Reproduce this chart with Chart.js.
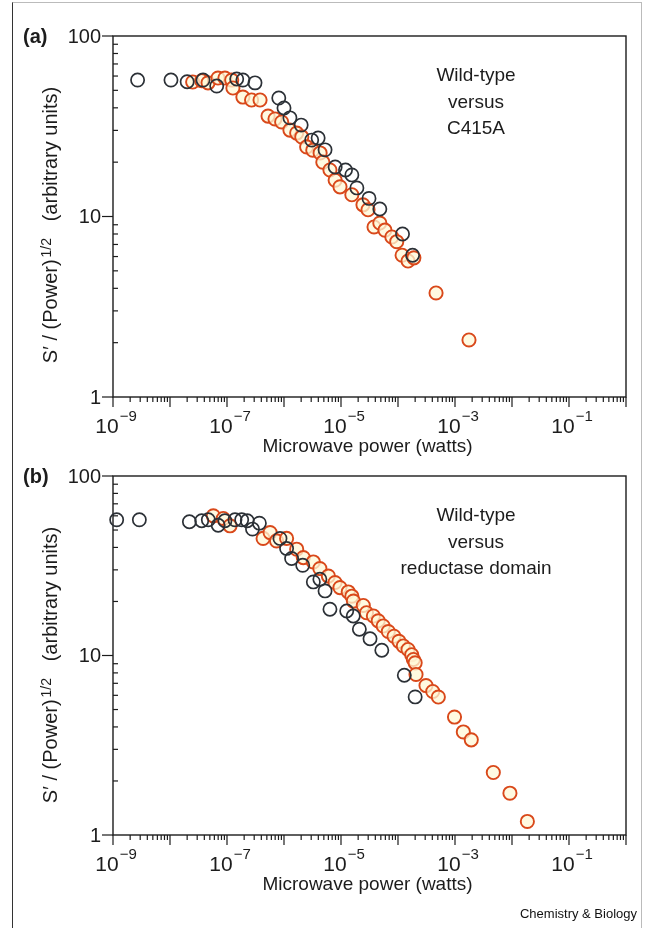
<!DOCTYPE html>
<html lang="en">
<head>
    <meta charset="UTF-8">
    <title>Microwave power saturation</title>
    <script src="https://cdn.jsdelivr.net/npm/chart.js"></script>
    <style>
        body { margin: 0; background: #fff; }
        .page { position: relative; width: 647px; height: 930px; overflow: hidden; }
        .frame { position: absolute; left: 12px; top: 2px; width: 628px; height: 925px; border-left: 1.5px solid #333; border-top: 1px solid #bbb; border-right: 1px solid #bbb; }
        canvas { position: absolute; left: 0; }
        .credit { position: absolute; right: 10px; top: 906px; font: 13px 'Liberation Sans', Arial, sans-serif; color: #111; }
    </style>
</head>
<body>
<div class="page">
    <div class="frame"></div>
    <canvas id="chartA" width="647" height="460" style="top:0"></canvas>
    <canvas id="chartB" width="647" height="490" style="top:440px"></canvas>
    <div class="credit">Chemistry &amp; Biology</div>
</div>

<script>
    // panel (a): wild-type vs C415A
    var aWildX = [2.7e-9, 1.04e-8, 2.0e-8, 3.8e-8, 6.6e-8, 1.48e-7, 1.9e-7, 3.1e-7, 8.1e-7, 1.0e-6, 1.27e-6, 2.0e-6,
                  3.06e-6, 3.97e-6, 5.25e-6, 7.9e-6, 1.2e-5, 1.55e-5, 1.9e-5, 3.1e-5, 4.8e-5, 1.2e-4, 1.8e-4];
    var aWildY = [57, 57, 55.8, 57, 52.8, 57.8, 57, 55, 45.3, 39.9, 35.2, 32.1,
                  26.5, 27.2, 23.4, 18.8, 18.1, 17, 14.4, 12.6, 11.0, 8.0, 6.1];
    var aMutX = [2.5e-8, 3.6e-8, 4.65e-8, 6.95e-8, 9.2e-8, 1.21e-7, 1.27e-7, 1.9e-7, 2.7e-7, 3.8e-7, 5.25e-7, 6.95e-7,
                 9.1e-7, 1.27e-6, 1.67e-6, 2.05e-6, 2.5e-6, 3.2e-6, 4.3e-6, 4.8e-6, 6.4e-6, 7.9e-6, 9.6e-6, 1.55e-5,
                 2.43e-5, 2.98e-5, 3.8e-5, 4.8e-5, 5.9e-5, 7.8e-5, 9.5e-5, 1.18e-4, 1.5e-4, 1.9e-4, 4.65e-4, 1.76e-3];
    var aMutY = [55.6, 56.5, 55, 58.5, 58.5, 57, 51.5, 45.9, 44.2, 44.2, 36, 34.7,
                 33.4, 30.1, 29, 27.6, 24.3, 23.3, 22.5, 20, 18.1, 15.9, 14.6, 13.2,
                 11.6, 10.9, 8.75, 9.2, 8.4, 7.7, 7.25, 6.1, 5.67, 5.9, 3.77, 2.07];

    // panel (b): wild-type vs reductase domain
    var bWildX = [1.16e-9, 2.9e-9, 2.19e-8, 3.6e-8, 4.7e-8, 7.0e-8, 9.2e-8, 1.38e-7, 1.81e-7, 2.27e-7, 2.8e-7, 3.7e-7,
                  8.5e-7, 1.11e-6, 1.36e-6, 2.13e-6, 3.27e-6, 4.26e-6, 5.25e-6, 6.4e-6, 1.26e-5, 1.64e-5, 2.1e-5,
                  3.23e-5, 5.2e-5, 1.29e-4, 2.0e-4];
    var bWildY = [57, 57, 55.6, 56.3, 57, 53.2, 56.3, 57, 57, 56.3, 50.6, 54.6,
                  44.9, 39.5, 34.7, 31.8, 25.7, 26.6, 22.9, 18.1, 17.7, 16.6, 14.0,
                  12.4, 10.7, 7.76, 5.88];
    var bDomX = [5.75e-8, 8.6e-8, 1.13e-7, 4.3e-7, 5.7e-7, 7.4e-7, 1.11e-6, 1.67e-6, 2.18e-6, 3.27e-6, 4.26e-6, 6.0e-6,
                 7.86e-6, 9.6e-6, 1.34e-5, 1.55e-5, 1.65e-5, 2.46e-5, 2.8e-5, 3.7e-5, 4.5e-5, 5.5e-5, 6.76e-5, 8.5e-5,
                 1.04e-4, 1.24e-4, 1.5e-4, 1.74e-4, 1.86e-4, 2.0e-4, 2.07e-4, 3.1e-4, 4.07e-4, 5.1e-4, 9.8e-4, 1.4e-3,
                 1.93e-3, 4.7e-3, 9.2e-3, 1.86e-2];
    var bDomY = [60, 58, 52.8, 44.9, 48.4, 43.5, 44.9, 39.1, 35.1, 33.2, 30.5, 27.7,
                 25.5, 23.9, 22.6, 21.4, 20.1, 19.0, 17.3, 16.6, 15.6, 14.6, 13.6, 12.8,
                 12.0, 11.3, 10.8, 10.1, 9.5, 9.1, 7.84, 6.8, 6.3, 5.87, 4.54, 3.75,
                 3.39, 2.23, 1.71, 1.19];

    // axis ticks
    var xDecades = [-9, -8, -7, -6, -5, -4, -3, -2, -1, 0];
    var xLabelExp = [-9, -7, -5, -3, -1];
    var yDecades = [0, 1, 2];
    var yLabels = ['1', '10', '100'];
    var minorSteps = [2, 3, 4, 5, 6, 7, 8, 9];

    var FONT = "'Liberation Sans', Arial, Helvetica, sans-serif";
    var INK = '#1c1c1c';

    function pts(xs, ys) {
        return xs.map(function (v, i) { return { x: v, y: ys[i] }; });
    }

    function line(ctx, x1, y1, x2, y2) {
        ctx.beginPath();
        ctx.moveTo(x1, y1);
        ctx.lineTo(x2, y2);
        ctx.stroke();
    }

    // axes, ticks and labels drawn from the chart's own log scales
    function axesPlugin(panel, note) {
        return {
            id: 'axes' + panel,
            beforeDatasetsDraw: function (chart) {
                var ctx = chart.ctx, a = chart.chartArea;
                var xs = chart.scales.x, ys = chart.scales.y;
                ctx.save();
                ctx.strokeStyle = INK;
                ctx.fillStyle = INK;
                ctx.lineWidth = 1.4;
                ctx.strokeRect(a.left, a.top, a.right - a.left, a.bottom - a.top);

                // x ticks
                ctx.lineWidth = 1.2;
                xDecades.forEach(function (e) {
                    var px = xs.getPixelForValue(Math.pow(10, e));
                    line(ctx, px, a.bottom, px, a.bottom + 10);
                    if (e < 0) {
                        minorSteps.forEach(function (m) {
                            var mx = xs.getPixelForValue(m * Math.pow(10, e));
                            line(ctx, mx, a.bottom, mx, a.bottom + 5);
                        });
                    }
                });
                // y ticks: majors outward, minors inward
                yDecades.forEach(function (e) {
                    var py = ys.getPixelForValue(Math.pow(10, e));
                    line(ctx, a.left - 11, py, a.left, py);
                    if (e < 2) {
                        minorSteps.forEach(function (m) {
                            var my = ys.getPixelForValue(m * Math.pow(10, e));
                            line(ctx, a.left, my, a.left + 5, my);
                        });
                    }
                });

                // y tick labels
                ctx.font = '20px ' + FONT;
                ctx.textAlign = 'right';
                ctx.textBaseline = 'middle';
                yDecades.forEach(function (e, i) {
                    ctx.fillText(yLabels[i], a.left - 12, ys.getPixelForValue(Math.pow(10, e)) + 1);
                });

                // x tick labels 10^n
                ctx.textBaseline = 'alphabetic';
                ctx.textAlign = 'left';
                xLabelExp.forEach(function (e) {
                    var px = xs.getPixelForValue(Math.pow(10, e));
                    ctx.font = '21px ' + FONT;
                    var w1 = ctx.measureText('10').width;
                    ctx.font = '15px ' + FONT;
                    var sup = '\u2212' + Math.abs(e);
                    var w2 = ctx.measureText(sup).width;
                    var x0 = px - (w1 + w2 + 1) / 2 + 3;
                    ctx.font = '21px ' + FONT;
                    ctx.fillText('10', x0, a.bottom + 36);
                    ctx.font = '15px ' + FONT;
                    ctx.fillText(sup, x0 + w1 + 1, a.bottom + 24);
                });

                // x title
                ctx.font = '19px ' + FONT;
                ctx.textAlign = 'center';
                ctx.fillText('Microwave power (watts)', (a.left + a.right) / 2 - 2, a.bottom + 55);

                // y title, rotated, with superscript
                ctx.save();
                ctx.translate(57, a.top + 190);
                ctx.rotate(-Math.PI / 2);
                ctx.textAlign = 'left';
                var p1 = 'S\u2032 / (Power)', p2 = '1/2', p3 = '   (arbitrary units)';
                ctx.font = '20px ' + FONT;
                var w1 = ctx.measureText(p1).width, w3 = ctx.measureText(p3).width;
                ctx.font = '14px ' + FONT;
                var w2 = ctx.measureText(p2).width;
                var sx = -(w1 + w2 + w3) / 2;
                ctx.font = '20px ' + FONT;
                ctx.fillText(p1, sx, 0);
                ctx.font = '14px ' + FONT;
                ctx.fillText(p2, sx + w1 + 2, -6);
                ctx.font = '20px ' + FONT;
                ctx.fillText(p3, sx + w1 + w2 + 2, 0);
                ctx.restore();

                // panel letter
                ctx.font = 'bold 20px ' + FONT;
                ctx.textAlign = 'left';
                ctx.textBaseline = 'middle';
                ctx.fillText('(' + panel + ')', 23, a.top + 1);

                // annotation
                ctx.font = '19px ' + FONT;
                ctx.textAlign = 'center';
                note.forEach(function (t, i) {
                    ctx.fillText(t, 476, a.top + 40 + i * 26.5);
                });
                ctx.restore();
            }
        };
    }

    function makeChart(id, wildX, wildY, otherX, otherY, panel, note, padBottom) {
        return new Chart(document.getElementById(id), {
            type: 'scatter',
            data: {
                datasets: [{
                    data: pts(wildX, wildY),
                    borderColor: '#2b3036',
                    backgroundColor: 'rgba(255,255,255,0)',
                    borderWidth: 1.7,
                    pointRadius: 6.6
                }, {
                    data: pts(otherX, otherY),
                    borderColor: '#d9481a',
                    backgroundColor: 'rgba(255,248,215,0.75)',
                    borderWidth: 1.9,
                    pointRadius: 6.6
                }]
            },
            options: {
                responsive: false,
                animation: false,
                clip: false,
                layout: { padding: { left: 113, right: 21, top: 36, bottom: padBottom } },
                plugins: { legend: { display: false }, tooltip: { enabled: false } },
                scales: {
                    x: { type: 'logarithmic', min: 1e-9, max: 1, display: false },
                    y: { type: 'logarithmic', min: 1, max: 100, display: false }
                }
            },
            plugins: [axesPlugin(panel, note)]
        });
    }

    makeChart('chartA', aWildX, aWildY, aMutX, aMutY, 'a', ['Wild-type', 'versus', 'C415A'], 63);
    makeChart('chartB', bWildX, bWildY, bDomX, bDomY, 'b', ['Wild-type', 'versus', 'reductase domain'], 95);
</script>
</body>
</html>
